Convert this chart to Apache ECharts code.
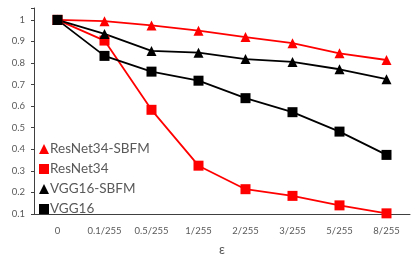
<!DOCTYPE html>
<html><head><meta charset="utf-8">
<script src="https://cdn.jsdelivr.net/npm/echarts@6/dist/echarts.min.js"></script>
<style>html,body{margin:0;padding:0;background:#fff}#c{width:415px;height:263px}</style>
</head><body><div id="c"></div>
<script>
const categories = ['0','0.1/255','0.5/255','1/255','2/255','3/255','5/255','8/255'];
const resnet34Sbfm = [1, 0.994, 0.974, 0.95, 0.92, 0.892, 0.845, 0.814];
const resnet34 = [1, 0.904, 0.583, 0.324, 0.215, 0.184, 0.14, 0.103];
const vgg16Sbfm = [1, 0.935, 0.856, 0.848, 0.818, 0.805, 0.771, 0.725];
const vgg16 = [1, 0.833, 0.76, 0.718, 0.637, 0.572, 0.482, 0.374];

const font = 'Lato, "Open Sans", sans-serif';
const chart = echarts.init(document.getElementById('c'), null, {renderer:'canvas'});
function s(name, data, color, symbol, size){
  return {name, type:'line', data, symbol, symbolSize:size, showSymbol:true,
    lineStyle:{color, width:1.8}, itemStyle:{color}, z: 3};
}
chart.setOption({
  animation:false,
  grid:{left:34, right:5, top:8, bottom:49},
  xAxis:{type:'category', data:categories, boundaryGap:true,
    name:'ε', nameLocation:'middle', nameGap:29,
    nameTextStyle:{fontFamily:font, fontSize:13, color:'#595959'},
    axisLine:{lineStyle:{color:'#404040', width:1}},
    axisTick:{show:false},
    axisLabel:{fontFamily:font, fontSize:9.5, color:'#595959', margin:12}},
  yAxis:{type:'value', min:0.1, max:1.055, interval:0.1,
    axisLine:{show:true, lineStyle:{color:'#404040', width:1}},
    axisTick:{show:true, length:3, lineStyle:{color:'#404040'}},
    splitLine:{show:false},
    axisLabel:{fontFamily:font, fontSize:9.5, color:'#595959', margin:9,
      formatter:function(v){ if(v>1.001) return ''; return String(+v.toFixed(1)); }}},
  legend:{orient:'vertical', left:34, top:137, itemGap:6, itemWidth:10, itemHeight:10,
    textStyle:{fontFamily:font, fontSize:13.5, color:'#595959', padding:[0,0,0,-4]},
    data:[
      {name:'ResNet34-SBFM', icon:'triangle'},
      {name:'ResNet34', icon:'rect'},
      {name:'VGG16-SBFM', icon:'triangle'},
      {name:'VGG16', icon:'rect'}]},
  series:[
    s('ResNet34-SBFM', resnet34Sbfm, '#ff0000', 'triangle', 10),
    s('ResNet34', resnet34, '#ff0000', 'rect', 10),
    s('VGG16-SBFM', vgg16Sbfm, '#000000', 'triangle', 10),
    s('VGG16', vgg16, '#000000', 'rect', 10)
  ]
});
</script></body></html>
